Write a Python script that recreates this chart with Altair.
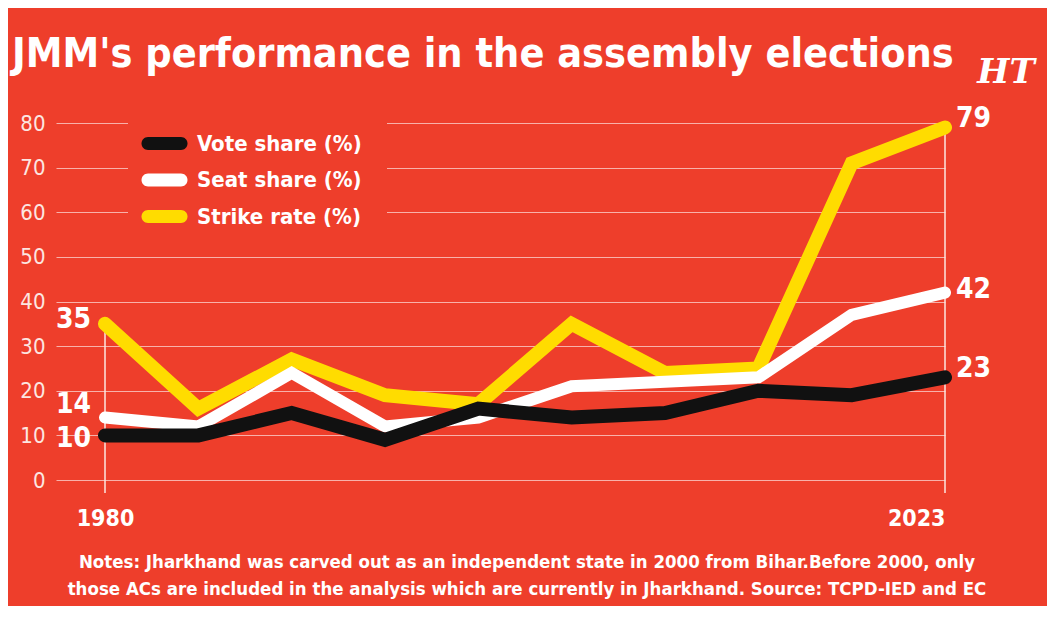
import altair as alt
import pandas as pd

years = ["1980", "1985", "1990", "1995", "2000", "2005", "2009", "2014", "2019", "2023"]
vote_share = [10, 10, 15, 9, 16, 14, 15, 20, 19, 23]
seat_share = [14, 12, 24, 12, 14, 21, 22, 23, 37, 42]
strike_rate = [35, 16, 27, 19, 17, 35, 24, 25, 71, 79]
series_names = ["Vote share (%)", "Seat share (%)", "Strike rate (%)"]
series_colors = ["#111111", "#FFFFFF", "#FFDC00"]

BG = "#EE3E2B"
FONT = "DejaVu Sans Condensed, Liberation Sans Narrow, Roboto, sans-serif"
PILL = ("M-1.435,-0.565L1.435,-0.565C1.747,-0.565 2,-0.312 2,0C2,0.312 1.747,0.565 1.435,0.565"
        "L-1.435,0.565C-1.747,0.565 -2,0.312 -2,0C-2,-0.312 -1.747,-0.565 -1.435,-0.565Z")

rows = []
for name, vals in zip(series_names, [vote_share, seat_share, strike_rate]):
    for i, (yr, v) in enumerate(zip(years, vals)):
        rows.append({"idx": i, "year": yr, "series": name, "value": v})
df = pd.DataFrame(rows)

last = len(years) - 1
ends = pd.DataFrame({
    "idx": [0, last],
    "top": [max(vote_share[0], seat_share[0], strike_rate[0]),
            max(vote_share[-1], seat_share[-1], strike_rate[-1])],
})

W, H = 889, 357

xs = alt.X("idx:Q",
           scale=alt.Scale(domain=[-0.525, last], nice=False, zero=False),
           axis=alt.Axis(values=[0, last], grid=False, domain=False, ticks=False,
                         labelExpr="%s[datum.value]" % str(years),
                         labelFont=FONT, labelFontSize=23, labelFontWeight="bold",
                         labelColor="#FFFFFF", labelPadding=27, title=None))
ys = alt.Y("value:Q",
           scale=alt.Scale(domain=[0, 80], nice=False),
           axis=alt.Axis(values=list(range(0, 81, 10)), domain=False, ticks=False,
                         labelFont=FONT, labelFontSize=22, labelColor="#FCE6E1",
                         labelPadding=11, gridColor="#FFFFFF", gridOpacity=0.6,
                         gridWidth=1.2, title=None))

color = alt.Color("series:N",
                  scale=alt.Scale(domain=series_names, range=series_colors),
                  legend=alt.Legend(title=None, orient="none", legendX=72, legendY=-16,
                                    fillColor=BG, padding=25, symbolType=PILL,
                                    symbolSize=529, symbolStrokeWidth=0,
                                    labelFont=FONT, labelFontSize=22,
                                    labelFontWeight="bold", labelColor="#FFFFFF",
                                    labelOffset=21, rowPadding=13.5, labelLimit=400))

base = alt.Chart(df)

# small filled points at each vertex (hidden beneath the lines) provide filled legend swatches
points = base.mark_point(filled=True, size=20, opacity=1).encode(x=xs, y=ys, color=color)

rules = alt.Chart(ends).mark_rule(color="#FCE6E1", strokeWidth=1.5).encode(
    x=alt.X("idx:Q"), y=alt.Y("top:Q"), y2=alt.value(H + 13))

line_layers = []
for name, sw in [("Strike rate (%)", 14), ("Seat share (%)", 12), ("Vote share (%)", 14)]:
    line_layers.append(
        base.transform_filter(alt.datum.series == name)
        .mark_line(strokeWidth=sw, strokeCap="round", strokeJoin="miter")
        .encode(x=xs, y=ys, color=color, order="idx:Q")
    )

label_layers = []
left_dy = {"Vote share (%)": 12, "Seat share (%)": -5, "Strike rate (%)": 4}
right_dy = {"Vote share (%)": 0, "Seat share (%)": 5, "Strike rate (%)": 0}
for name in series_names:
    label_layers.append(
        base.transform_filter((alt.datum.series == name) & (alt.datum.idx == 0))
        .mark_text(align="right", baseline="alphabetic", dx=-14, dy=left_dy[name],
                   font=FONT, fontSize=28, fontWeight="bold", color="#FFFFFF")
        .encode(x="idx:Q", y="value:Q", text="value:Q")
    )
    label_layers.append(
        base.transform_filter((alt.datum.series == name) & (alt.datum.idx == last))
        .mark_text(align="left", baseline="alphabetic", dx=11, dy=right_dy[name],
                   font=FONT, fontSize=28, fontWeight="bold", color="#FFFFFF")
        .encode(x="idx:Q", y="value:Q", text="value:Q")
    )

one = pd.DataFrame({"t": [0]})

title = alt.Chart(one).mark_text(
    text="JMM's performance in the assembly elections",
    align="left", baseline="alphabetic",
    font=FONT, fontSize=41, fontWeight="bold", color="#FFFFFF"
).encode(x=alt.value(-44), y=alt.value(-56))

notes = alt.Chart(one).mark_text(
    text=["Notes: Jharkhand was carved out as an independent state in 2000 from Bihar.Before 2000, only",
          "those ACs are included in the analysis which are currently in Jharkhand. Source: TCPD-IED and EC"],
    align="center", baseline="alphabetic", lineHeight=27,
    font=FONT, fontSize=18.5, fontWeight="bold", color="#FFFFFF"
).encode(x=alt.value(471), y=alt.value(445))

logo = alt.Chart(one).mark_text(
    text="HT", align="center", baseline="alphabetic",
    font="DejaVu Serif", fontSize=34, fontWeight="bold", fontStyle="italic", color="#FFFFFF"
).encode(x=alt.value(950), y=alt.value(-40))

chart = alt.layer(points, rules, *line_layers, *label_layers, title, notes, logo).properties(
    width=W, height=H,
    background=BG,
    padding={"left": 48, "top": 115, "right": 102, "bottom": 126},
    autosize=alt.AutoSizeParams(type="none"),
).configure_view(stroke=None)

chart.save("out.html", embed_options={"renderer": "svg", "actions": False})
